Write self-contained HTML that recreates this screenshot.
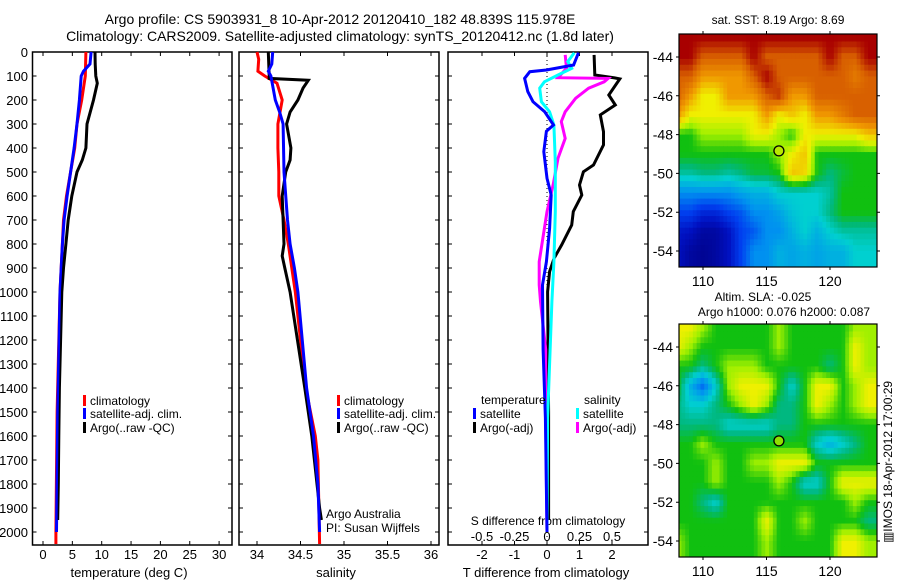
<!DOCTYPE html>
<html><head><meta charset="utf-8"><style>
body{margin:0;background:#fff}
svg{display:block;font-family:"Liberation Sans",sans-serif}
text{fill:#000}
</style></head><body>
<svg id="fig" width="900" height="580" viewBox="0 0 900 580">
<text x="340" y="24" font-size="14" text-anchor="middle">Argo profile: CS 5903931_8 10-Apr-2012 20120410_182 48.839S 115.978E</text>
<text x="340" y="41" font-size="14" text-anchor="middle">Climatology: CARS2009. Satellite-adjusted climatology: synTS_20120412.nc (1.8d later)</text>
</svg>
<script>
// ---------- DATA ----------
const tDepth=[0,50,100,130,200,300,400,450,500,600,700,800,900,1000,1200,1400,1600,1800,1950];
const tArgo=[8.86,8.9,9.0,9.25,8.6,7.5,7.3,6.7,5.8,4.9,4.3,3.9,3.5,3.2,3.0,2.8,2.7,2.6,2.5];
const climDepth=[0,100,200,300,400,500,600,700,800,1000,1500,2000,2050];
const tClim=[7.3,7.2,6.6,5.8,5.4,4.7,4.0,3.5,3.3,2.9,2.4,2.2,2.2];
const satDepth=[0,50,80,100,200,300,400,500,600,700,800,900,1000,1500,2000];
const tSat=[8.2,8.0,6.9,6.5,6.2,5.8,5.3,4.7,4.1,3.6,3.3,3.1,2.9,2.5,2.3];
const sArgoDepth=[0,100,110,118,150,200,250,300,400,450,500,600,700,800,850,900,1000,1400,1600,1900,1950];
const sArgo=[34.13,34.14,34.14,34.59,34.53,34.47,34.38,34.34,34.39,34.38,34.33,34.29,34.30,34.31,34.29,34.32,34.38,34.55,34.63,34.72,34.74];
const sClimDepth=[0,30,80,100,130,200,300,400,500,600,700,800,900,1000,1400,1600,1700,2050];
const sClim=[34.0,34.02,34.01,34.09,34.23,34.29,34.24,34.24,34.25,34.25,34.31,34.36,34.40,34.44,34.56,34.67,34.70,34.72];
const sSatDepth=[0,50,80,100,200,250,300,500,700,800,900,1000,1400,1600,1800,2000];
const sSat=[34.18,34.17,34.13,34.16,34.21,34.26,34.30,34.31,34.35,34.38,34.43,34.47,34.57,34.65,34.70,34.72];
const dTArgoDepth=[12,96,108,112,179,221,262,332,387,471,499,554,596,665,721,804,859,915,999,1500,1950];
const dTArgo=[1.45,1.47,2.08,2.24,1.9,2.1,1.64,1.74,1.74,1.43,1.12,1.0,1.07,0.81,0.76,0.45,0.22,0.08,0.02,0.05,0.05];
const dTSatDepth=[3,54,75,82,110,165,207,249,304,330,415,526,596,735,874,971,1239,1525,2000];
const dTSat=[0.97,0.82,-0.02,-0.53,-0.69,-0.59,-0.43,-0.07,0.2,-0.02,-0.1,0.0,0.13,0.08,-0.02,-0.14,-0.12,-0.05,0];
const dSSatDepth=[3,40,68,96,124,151,207,249,304,457,665,874,1040,1525,2000];
const dSSat=[0.21,0.16,0.19,0.085,-0.02,-0.056,-0.043,0.02,0.053,0.064,0.064,0.053,0.038,0.005,0];
const dSArgoDepth=[12,68,107,110,124,151,193,249,290,360,443,554,665,804,874,971,1040,1239,1525,2000];
const dSArgo=[0.14,0.15,0.085,0.47,0.44,0.32,0.22,0.14,0.11,0.14,0.085,0.047,0,-0.04,-0.06,-0.06,-0.05,-0.01,-0.01,0];
const depthTicks=[0,100,200,300,400,500,600,700,800,900,1000,1100,1200,1300,1400,1500,1600,1700,1800,1900,2000];
const tTicks=[0,5,10,15,20,25,30];
const sTicks=[34,34.5,35,35.5,36];
const sTickLabels=["34","34.5","35","35.5","36"];
const dTTicks=[-2,-1,0,1,2];
const dSTicks=[-0.5,-0.25,0,0.25,0.5];
const lonTicks=[110,115,120];
const latTicks=[-44,-46,-48,-50,-52,-54];
const gridLons=[108,109,110,111,112,113,114,115,116,117,118,119,120,121,122,123];
const gridLats=[-43,-44,-45,-46,-47,-48,-49,-50,-51,-52,-53,-54];
const sstGrid=[
[9,9,9,9,9,9,9,9,9,9,9,9,9,9,9,9],
[9,9,8,8,8,8,9,8,8,8,8,8,9,8,8,9],
[8,8,7,7,7,7,8,9,8,8,8,8,8,8,7.5,8],
[8,7,6,6,7,7,7,8,8.5,7,7,8,8,8,8,8],
[7,6,6,6,6,6,6,7,6,6.5,6,7,7,7.5,8,8],
[5,5,5.5,5.5,5.5,5.5,6,6,5.5,5,6,6,6,6,6,6.5],
[5,5,5,5,5,5,5,5,5.5,6,6.5,5,5,5,5,5],
[4.3,4.3,4.5,4.5,4.3,4.5,4.8,4.8,5,6.5,6.3,5,4.5,4.8,5,5],
[3,3,3,3,3,3.3,3.5,3.5,4,4,4,4,4.3,5,5,5],
[2,2,1.5,1.5,2,2.3,3,3,3.3,3.8,4,4,4.5,5,5,5],
[1.2,1,0.5,0.5,1,2,2.3,3,3,3.5,4,3.5,4,4.3,4.3,4.3],
[1,0.5,0.3,0.5,1,2,3,3,3.5,3.3,3.5,3.3,3.5,3.5,4,4]];
const slaGrid=[
[6,6,5.5,5,5,5,5,5,5.5,5,5,5,5,5,5.5,5.5],
[6,5.5,5,5,5,5,5,5,5.5,5,5,5,5,5,6,5.5],
[5,5,4.5,5,5.5,5.5,5.5,5,5,5,5,5,4.5,5,6,5.5],
[5,3.5,2.5,4,5.5,6,6,6,5,4,5,6,6,5,5.5,6],
[4.5,4,4,4.5,5,5.5,6,5.5,4.5,4.5,5,6,5.5,5,5.5,6],
[4.5,4.5,4.5,4.5,4,4,4,4,4.5,4.5,5,5,5,5,5,5],
[5,5,5.5,5,5,5,5,5,5,5,5,4,3.5,4,4.5,5],
[5,5,5,5.5,5,5,5.5,5.5,6,6,6,5,5,5,5,5],
[5,5,5,5.5,5,5,5,5,5.5,5,4,4,5,6,6,6],
[5,5,4.5,4,5,5,5,5,5,5,5,5,5,5,5.5,5],
[5,5,5,5,5,5,5,6,5,5,5.5,5,5,5,5,4.5],
[5.5,5,5,5,5,5,5,5.5,5,5,5,5,5,6,6,5.5]];
const argoLon=[115.978], argoLat=[-48.839];

// ---------- HELPERS ----------
const NS="http://www.w3.org/2000/svg";
const svg=document.getElementById('fig');
function mk(tag,attrs,parent){const e=document.createElementNS(NS,tag);for(const k in attrs)e.setAttribute(k,attrs[k]);(parent||svg).appendChild(e);return e;}
const Y0=52,Y1=545;
const yD=d=>Y0+d*0.24;
function txt(x,y,s,size,anchor){const t=mk('text',{x:x,y:y,'font-size':size||13,'text-anchor':anchor||'middle'});t.textContent=s;return t;}

function panel(x0,x1,name){
  const r=mk('rect',{x:x0,y:Y0,width:x1-x0,height:Y1-Y0,fill:'none',stroke:'#000','stroke-width':1.5});
  
  
  depthTicks.forEach(d=>{
    const t=mk('path',{d:`M${x0},${yD(d)}h4M${x1},${yD(d)}h-4`,stroke:'#000','stroke-width':1});
    
    
  });
}
function xTicks(x0,x1,ticks,fx,labels,name,yl){
  ticks.forEach((v,i)=>{
    const x=fx(v);
    const t=mk('path',{d:`M${x},${Y1}v-4M${x},${Y0}v4`,stroke:'#000','stroke-width':1});
    
    
    const l=txt(x,yl||559,labels?labels[i]:String(v),13);
    
    
  });
}
function line(depths,vals,fx,color,name,w){
  const pts=depths.map((d,i)=>fx(vals[i]).toFixed(1)+','+yD(d).toFixed(1)).join(' ');
  const p=mk('polyline',{points:pts,fill:'none',stroke:color,'stroke-width':w||3,'stroke-linejoin':'miter'});
  
  
}
function legendEntry(x,y,color,label,name){
  const b=mk('rect',{x:x,y:y-10,width:3,height:11,fill:color});
  
  
  const t=txt(x+7,y,label,12,'start');
  
  
}

// ---------- PANEL 1 temperature ----------
const fT=v=>43+v*5.87;
panel(32.5,232,'temperature-panel');
depthTicks.forEach(d=>{const l=txt(28,yD(d)+5,String(d),13,'end');
  
  });
xTicks(32.5,232,tTicks,fT,null,'temperature-axis');
const xl1=txt(129,577,'temperature (deg C)',13);


line(climDepth,tClim,fT,'#f00','temperature-climatology-line');
line(satDepth,tSat,fT,'#00f','temperature-satellite-line');
line(tDepth,tArgo,fT,'#000','temperature-argo-line');
line(satDepth,tSat,fT,'#00f','temperature-satellite-line-top',2);
legendEntry(83,405,'#f00','climatology','temp-legend-climatology');
legendEntry(83,418,'#00f','satellite-adj. clim.','temp-legend-satellite');
legendEntry(83,432,'#000','Argo(..raw -QC)','temp-legend-argo');

// ---------- PANEL 2 salinity ----------
const fS=v=>257+(v-34)*87;
panel(239,439,'salinity-panel');
xTicks(239,439,sTicks,fS,sTickLabels,'salinity-axis');
const xl2=txt(336,577,'salinity',13);


line(sClimDepth,sClim,fS,'#f00','salinity-climatology-line');
line(sArgoDepth,sArgo,fS,'#000','salinity-argo-line');
line(sSatDepth,sSat,fS,'#00f','salinity-satellite-line');
legendEntry(337,405,'#f00','climatology','sal-legend-climatology');
legendEntry(337,418,'#00f','satellite-adj. clim.','sal-legend-satellite');
legendEntry(337,432,'#000','Argo(..raw -QC)','sal-legend-argo');
const c1=txt(326,518,'Argo Australia',12,'start');


const c2=txt(326,532,'PI: Susan Wijffels',12,'start');



// ---------- PANEL 3 differences ----------
const fdT=v=>547+v*32.5;
const fdS=v=>547+v*130;
panel(448,648,'difference-panel');
const zl=mk('line',{x1:547,x2:547,y1:Y0,y2:Y1,stroke:'#000','stroke-width':1,'stroke-dasharray':'1,3'});


xTicks(448,648,dTTicks,fdT,null,'t-difference-axis');
dSTicks.forEach(v=>{const l=txt(fdS(v),541,String(v),13);
  
  });
const sdl=txt(548,525,'S difference from climatology',12);


const tdl=txt(546,577,'T difference from climatology',13);


line(dTArgoDepth,dTArgo,fdT,'#000','t-difference-argo-line');
line(dSArgoDepth,dSArgo,fdS,'#f0f','s-difference-argo-line');
line(dSSatDepth,dSSat,fdS,'#0ff','s-difference-satellite-line');
line(dTSatDepth,dTSat,fdT,'#00f','t-difference-satellite-line');
const lt=txt(481,404,'temperature',12,'start');


const ls=txt(584,404,'salinity',12,'start');


legendEntry(473,418,'#00f','satellite','diff-legend-t-satellite');
legendEntry(473,432,'#000','Argo(-adj)','diff-legend-t-argo');
legendEntry(576,418,'#0ff','satellite','diff-legend-s-satellite');
legendEntry(576,432,'#f0f','Argo(-adj)','diff-legend-s-argo');

// ---------- MAPS ----------
const stops=[[0,[0,0,128]],[1,[0,16,192]],[2,[0,64,240]],[3,[0,144,240]],[4,[0,208,208]],[4.5,[0,184,128]],[5,[16,192,16]],[5.5,[160,240,0]],[6,[240,240,0]],[7,[240,152,0]],[8,[216,96,0]],[9,[168,0,0]]];
function col(v){
  for(let i=0;i<stops.length-1;i++){const a=stops[i],b=stops[i+1];
    if(v<=b[0]||i===stops.length-2){const t=Math.max(0,Math.min(1,(v-a[0])/(b[0]-a[0])));
      return 'rgb('+a[1].map((c,k)=>Math.round(c+(b[1][k]-c)*t)).join(',')+')';}}
}
function sample(grid,lon,lat){
  let c=(lon-gridLons[0]),r=(gridLats[0]-lat);
  c=Math.max(0,Math.min(gridLons.length-1,c));r=Math.max(0,Math.min(gridLats.length-1,r));
  const c0=Math.min(Math.floor(c),gridLons.length-2),r0=Math.min(Math.floor(r),gridLats.length-2);
  const fc=c-c0,fr=r-r0;
  return grid[r0][c0]*(1-fc)*(1-fr)+grid[r0][c0+1]*fc*(1-fr)+grid[r0+1][c0]*(1-fc)*fr+grid[r0+1][c0+1]*fc*fr;
}
function drawMap(grid,top,name,dotFill){
  const MX0=679,MX1=877,MY1=top+233;
  const fx=lon=>703+(lon-110)*12.7;
  const fy=lat=>top+23+(-44-lat)*19.4;
  const clip=mk('clipPath',{id:name+'-clip'});
  mk('rect',{x:MX0,y:top,width:MX1-MX0,height:MY1-top},clip);
  const g=mk('g',{'clip-path':`url(#${name}-clip)`});
  
  
  const step=0.3;
  for(let lat=-42.6;lat>-55.2;lat-=step){
    for(let lon=108;lon<124;lon+=step){
      const x=fx(lon),y=fy(lat);
      const cell=mk('rect',{x:x.toFixed(2),y:y.toFixed(2),width:(step*12.7+0.6).toFixed(2),height:(step*19.4+0.6).toFixed(2),fill:col(sample(grid,lon+step/2,lat-step/2))},g);
      
      
    }
  }
  const f=mk('rect',{x:MX0,y:top,width:MX1-MX0,height:MY1-top,fill:'none',stroke:'#000','stroke-width':1.2});
  
  
  lonTicks.forEach(v=>{
    const t=mk('path',{d:`M${fx(v)},${top}v-3M${fx(v)},${MY1}v3`,stroke:'#000','stroke-width':1});
    
    
    const l=txt(fx(v),MY1+19,String(v),14);
    
    
  });
  latTicks.forEach(v=>{
    const t=mk('path',{d:`M${MX0},${fy(v)}h-3M${MX1},${fy(v)}h3`,stroke:'#000','stroke-width':1});
    
    
    const l=txt(673,fy(v)+5,String(v),14,'end');
    
    
  });
  const dot=mk('circle',{cx:fx(argoLon[0]),cy:fy(argoLat[0]),r:5,fill:dotFill,stroke:'#000','stroke-width':1.3});
  
  
}
drawMap(sstGrid,34,'sst-map','#b8e800');
drawMap(slaGrid,324,'sla-map','#90e000');
const mt1=txt(778,24,'sat. SST: 8.19 Argo: 8.69',12);


const mt2=txt(763,301,'Altim. SLA: -0.025',12);


const mt3=txt(784,316,'Argo h1000: 0.076 h2000: 0.087',12);


const st=txt(0,0,'\u25A5IMOS 18-Apr-2012 17:00:29',12);
st.setAttribute('transform','translate(892,462) rotate(-90)');


</script>
</body></html>
